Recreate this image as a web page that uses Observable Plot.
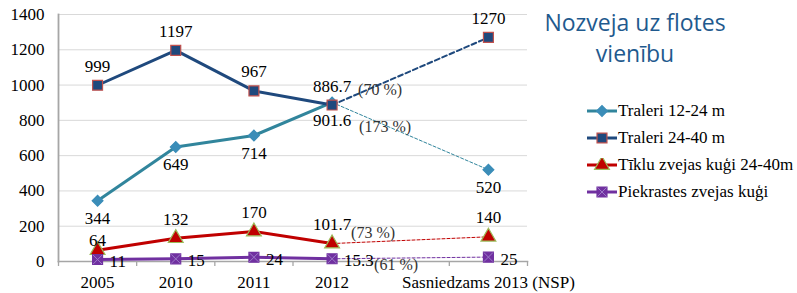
<!DOCTYPE html>
<html>
<head>
<meta charset="utf-8">
<script src="https://cdn.jsdelivr.net/npm/d3@7"></script>
<script src="https://cdn.jsdelivr.net/npm/@observablehq/plot@0.6"></script>
<style>
  html, body { margin: 0; padding: 0; background: #fff; }
  #wrap { position: relative; width: 797px; height: 293px; overflow: hidden; }
  #title { position: absolute; left: 520px; width: 230px; top: 7px; text-align: center;
    font-family: "Open Sans", sans-serif; font-size: 23px; line-height: 31px; color: #1F5A8E; }
  #legend { position: absolute; left: 587px; top: 97px; font-family: "Liberation Serif", "Times New Roman", serif; font-size: 17px; color: #000; white-space: nowrap; }
  .item { display: flex; align-items: center; height: 27px; }
  .item svg { margin-right: 1px; }
  #chart svg text { font-family: "Liberation Serif", "Times New Roman", serif; }
</style>
</head>
<body>
<div id="wrap">
  <div id="chart"></div>
  <div id="title">Nozveja uz flotes<br>vienību</div>
  <div id="legend"></div>
</div>
<script>
// ---- data ----
const categories = ["2005", "2010", "2011", "2012", "", "Sasniedzams 2013 (NSP)"];
const seriesNames = ["Traleri 12-24 m", "Traleri 24-40 m", "Tīklu zvejas kuģi 24-40m", "Piekrastes zvejas kuģi"];
const traleri1224 = [344, 649, 714, 901.6, null, 520];
const traleri2440 = [999, 1197, 967, 886.7, null, 1270];
const tiklu = [64, 132, 170, 101.7, null, 140];
const piekrastes = [11, 15, 24, 15.3, null, 25];
const pct2012 = ["(173 %)", "(70 %)", "(73 %)", "(61 %)"];
const yTicks = [0, 200, 400, 600, 800, 1000, 1200, 1400];

const values = [traleri1224, traleri2440, tiklu, piekrastes];

// ---- styles ----
const FS = 17;
const styles = [
  {line: "#31859C", fill: "#3B8DB8", stroke: "#3B8DB8", symbol: "square", rotate: 45, r: 4.3, dashW: 1, dash: "3,2", lab: {dx: 0, dy: 18, anchor: "middle"}, pct: {dx: 27, dy: 24}},
  {line: "#1F497D", fill: "#1F497D", stroke: "#C0504D", symbol: "square", rotate: 0, r: 5.6, dashW: 2, dash: "5,3", lab: {dx: 0, dy: -19, anchor: "middle"}, pct: {dx: 26, dy: -15}},
  {line: "#C00000", fill: "#C00000", stroke: "#9BBB59", symbol: "triangle", rotate: 0, r: 5.5, dashW: 1, dash: "3,2", lab: {dx: 0, dy: -19, anchor: "middle", lowDy: -10}, pct: {dx: 19, dy: -11}},
  {line: "#7030A0", fill: "#7030A0", stroke: "#7030A0", symbol: "square", rotate: 0, r: 5.6, dashW: 1, dash: "3,2", lab: {dx: 12, dy: 2, anchor: "start"}, pct: {dx: 42, dy: 6}}
];

const rows = [];
values.forEach((arr, s) => arr.forEach((v, i) => { if (v != null) rows.push({s, i, v}); }));
const fmt = v => String(v);

const marks = [
  Plot.gridY(yTicks, {stroke: "#d9d9d9", strokeOpacity: 1, strokeWidth: 1}),
  Plot.axisY(yTicks, {label: null, tickSize: 0, tickPadding: 14, fontSize: FS, fill: "#000", tickFormat: d => String(d)}),
  Plot.axisX(d3.range(categories.length + 1).map(i => i - 0.5), {label: null, tickSize: 5, tickFormat: () => "", stroke: "#a6a6a6", strokeWidth: 1.3}),
  Plot.axisX(d3.range(categories.length), {label: null, tickSize: 0, tickPadding: 14, fontSize: FS, fill: "#000", tickFormat: i => categories[i]}),
  Plot.frame({anchor: "left", stroke: "#a6a6a6", strokeWidth: 1.8}),
  Plot.frame({anchor: "bottom", stroke: "#a6a6a6", strokeWidth: 1.5})
];

styles.forEach((st, s) => {
  const mine = rows.filter(d => d.s === s);
  const solid = mine.filter(d => d.i <= 3);
  const dashed = mine.filter(d => d.i >= 3);
  marks.push(
    Plot.line(solid, {x: "i", y: "v", stroke: st.line, strokeWidth: 3}),
    Plot.line(dashed, {x: "i", y: "v", stroke: st.line, strokeWidth: st.dashW, strokeDasharray: st.dash}),
    Plot.dot(mine, {x: "i", y: "v", symbol: st.symbol, rotate: st.rotate, r: st.r, fill: st.fill, stroke: st.stroke, strokeWidth: 1.2})
  );
  if (s === 3) {
    marks.push(Plot.dot(mine, {x: "i", y: "v", symbol: "times", r: 4.2, stroke: "#9C7BC8", strokeWidth: 1}));
  }
});

styles.forEach((st, s) => {
  const mine = rows.filter(d => d.s === s);
  const low = st.lab.lowDy != null ? mine.filter(d => d.v < 100) : [];
  const normal = mine.filter(d => !low.includes(d));
  marks.push(
    Plot.text(normal, {x: "i", y: "v", text: d => fmt(d.v), dx: st.lab.dx, dy: st.lab.dy, textAnchor: st.lab.anchor, fill: "#000", fontSize: FS}),
    Plot.text(low, {x: "i", y: "v", text: d => fmt(d.v), dx: st.lab.dx, dy: st.lab.lowDy || 0, textAnchor: st.lab.anchor, fill: "#000", fontSize: FS}),
    Plot.text(mine.filter(d => d.i === 3), {x: "i", y: "v", text: d => pct2012[d.s], dx: st.pct.dx, dy: st.pct.dy, textAnchor: "start", fill: "#333", fontSize: 16})
  );
});

const chart = Plot.plot({
  width: 797,
  height: 293,
  marginLeft: 58,
  marginRight: 270,
  marginTop: 14,
  marginBottom: 32,
  style: {fontFamily: "'Liberation Serif', 'Times New Roman', serif", fontSize: FS + "px", background: "#fff"},
  x: {type: "linear", domain: [-0.5, categories.length - 0.5], axis: null},
  y: {domain: [0, 1400], axis: null},
  marks
});
document.getElementById("chart").appendChild(chart);

// ---- legend ----
const legend = d3.select("#legend");
styles.forEach((st, s) => {
  const item = legend.append("div").attr("class", "item");
  const svg = item.append("svg").attr("width", 30).attr("height", 14);
  svg.append("line").attr("x1", 0).attr("x2", 30).attr("y1", 7).attr("y2", 7).attr("stroke", st.line).attr("stroke-width", 3);
  const sym = {square: d3.symbolSquare, triangle: d3.symbolTriangle}[st.symbol];
  svg.append("path").attr("transform", `translate(15,7) rotate(${st.rotate})`).attr("d", d3.symbol(sym, Math.PI * st.r * st.r)())
    .attr("fill", st.fill).attr("stroke", st.stroke).attr("stroke-width", 1.2);
  if (s === 3) svg.append("path").attr("transform", "translate(15,7)").attr("d", d3.symbol(d3.symbolTimes, Math.PI * 4.2 * 4.2)()).attr("fill", "none").attr("stroke", "#9C7BC8");
  item.append("span").text(seriesNames[s]);
});
</script>
</body>
</html>
